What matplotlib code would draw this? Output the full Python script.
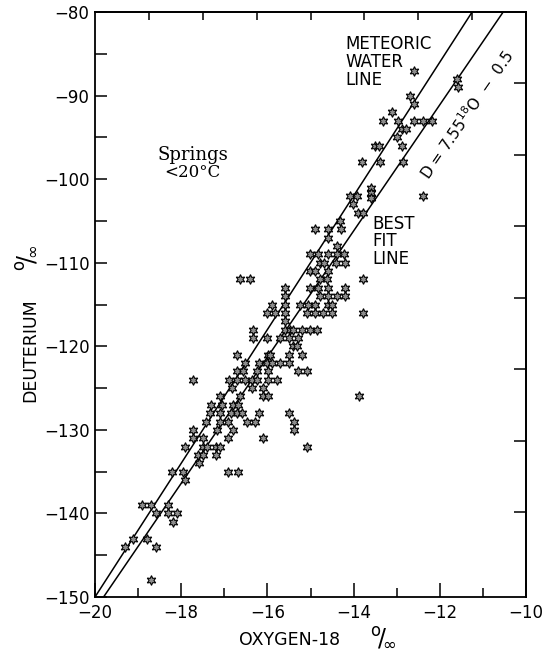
import matplotlib
matplotlib.use("Agg")
import matplotlib.pyplot as plt
import numpy as np

plt.rcParams["font.family"] = ["DejaVu Sans"]

### data ###
# spring waters < 20 C, read row by row (deuterium value : oxygen-18 values)
rows = {
    -87: [-12.60],
    -88: [-11.60],
    -89: [-11.58],
    -90: [-12.69],
    -91: [-12.60],
    -92: [-13.11],
    -93: [-13.32, -12.97, -12.60, -12.39, -12.18],
    -94: [-12.88, -12.78],
    -95: [-12.99],
    -96: [-13.50, -13.41, -12.88],
    -98: [-13.81, -13.39, -12.85],
    -101: [-13.60],
    -101.6: [-13.60],
    -102.2: [-13.60],
    -102: [-14.08, -13.92, -12.39],
    -103: [-14.01],
    -104: [-13.90, -13.78],
    -105: [-14.32],
    -106: [-14.90, -14.59, -14.30],
    -107: [-14.59],
    -108: [-14.39],
    -109: [-15.01, -14.83, -14.59, -14.39, -14.22],
    -110: [-14.78, -14.69, -14.41, -14.20],
    -111: [-15.01, -14.90, -14.59],
    -112: [-16.64, -16.40, -14.78, -14.62, -13.78],
    -113: [-15.59, -15.01, -14.83, -14.59, -14.20],
    -114: [-15.59, -14.78, -14.59, -14.39, -14.20],
    -115: [-15.89, -15.59, -15.24, -15.06, -14.90, -14.59, -14.50],
    -116: [-16.01, -15.82, -15.59, -15.08, -14.90, -14.71, -14.50, -13.78],
    -117: [-15.59],
    -118: [-16.33, -15.59, -15.48, -15.41, -15.20, -15.01, -14.85],
    -119: [-16.33, -16.01, -15.71, -15.50, -15.29],
    -120: [-15.41, -15.31],
    -121: [-16.71, -15.99, -15.94, -15.50, -15.20],
    -122: [-16.52, -16.20, -16.01, -15.89, -15.71, -15.50],
    -123: [-16.71, -16.57, -16.24, -15.99, -15.29, -15.08],
    -124: [-17.73, -16.88, -16.71, -16.52, -16.36, -16.24, -15.99, -15.78],
    -125: [-16.82, -16.36, -16.10],
    -126: [-17.10, -16.64, -16.10, -15.99, -13.87],
    -127: [-17.31, -17.05, -16.80, -16.69],
    -128: [-17.33, -17.10, -16.85, -16.70, -16.59, -16.19, -15.50],
    -129: [-17.42, -17.10, -16.91, -16.47, -16.29, -15.38],
    -130: [-17.73, -17.17, -16.80, -15.38],
    -131: [-17.73, -17.49, -16.91, -16.10],
    -132: [-17.91, -17.49, -17.40, -17.19, -17.10, -15.08],
    -133: [-17.61, -17.49, -17.19],
    -134: [-17.58],
    -135: [-18.21, -17.96, -16.91, -16.68],
    -136: [-17.91],
    -139: [-18.91, -18.70, -18.31],
    -140: [-18.58, -18.31, -18.10],
    -141: [-18.19],
    -143: [-19.12, -18.79],
    -144: [-19.30, -18.58],
    -148: [-18.70],
}

o18 = []
deut = []
for d, os_ in rows.items():
    for o in os_:
        o18.append(o)
        deut.append(d)

# lines: D = a * 18O + b
mwl_slope, mwl_icpt = 8.0, 10.0
fit_slope, fit_icpt = 7.55, -0.5

### plot ###
fig = plt.figure(figsize=(5.48, 6.57), dpi=100)
ax = fig.add_axes([95 / 548, 60 / 657, 431 / 548, 585 / 657])

xs = np.array([-20.5, -9.5])
ax.plot(xs, mwl_slope * xs + mwl_icpt, color="black", lw=1.1)
ax.plot(xs, fit_slope * xs + fit_icpt, color="black", lw=1.1)

ax.plot(o18, deut, ls="none", marker=(6, 1, 0), ms=7, mfc="#8c8c8c",
        mec="black", mew=0.8)

ax.set_xlim(-20, -10)
ax.set_ylim(-150, -80)

ax.set_xticks(np.arange(-20, -9, 2))
ax.set_xticks(np.arange(-19, -10, 2), minor=True)
ax.set_yticks(np.arange(-150, -79, 10))
ax.set_yticks(np.arange(-145, -80, 10), minor=True)
ax.tick_params(axis="x", which="major", direction="in", length=10, width=1.1,
               labelsize=12, pad=5)
ax.tick_params(axis="x", which="minor", direction="in", length=6.5, width=1.1)
ax.tick_params(axis="y", which="both", direction="in", length=8.5, width=1.1,
               labelsize=12, pad=4)

top_ticks = [-18.75, -17.5, -16.25, -15.0, -13.75, -12.5, -11.25]
right_ticks = [-88.55, -97.1, -105.65, -114.2, -122.75, -131.3, -139.85]
top = ax.secondary_xaxis("top")
top.set_xticks(top_ticks)
top.tick_params(direction="in", length=6, width=1.1, labeltop=False)
right = ax.secondary_yaxis("right")
right.set_yticks(right_ticks)
right.tick_params(direction="in", length=8.5, width=1.1, labelright=False)

for sp in list(ax.spines.values()) + list(top.spines.values()) + list(right.spines.values()):
    sp.set_linewidth(1.3)

# annotations
ax.text(-14.2, -82.8, "METEORIC\nWATER\nLINE", fontsize=12, ha="left",
        va="top", linespacing=1.0)
ax.text(-13.57, -104.3, "BEST\nFIT\nLINE", fontsize=12, ha="left",
        va="top", linespacing=0.95)
ax.text(-17.73, -97.7, "Springs", family="DejaVu Serif", fontsize=13,
        ha="center", va="baseline")
ax.text(-17.73, -99.7, "<20°C", family="DejaVu Serif", fontsize=12,
        ha="center", va="baseline")
ax.text(-11.38, -92.3, r"D = 7.55$^{18}$O  −  0.5", fontsize=11,
        rotation=55.5, rotation_mode="anchor", ha="center", va="center")

fig.text(290 / 548, 17 / 657, "OXYGEN-18", fontsize=12.5, ha="center",
         va="center")
fig.text(383 / 548, 19 / 657, r"$^{\mathrm{o}}\!/_{\!\infty}$", fontsize=17,
         ha="center", va="center")
fig.text(30 / 548, 1 - 350 / 657, "DEUTERIUM", fontsize=12.5, rotation=90,
         ha="center", va="center")
fig.text(27 / 548, 1 - 258 / 657, r"$^{\mathrm{o}}\!/_{\!\infty}$", fontsize=17,
         rotation=90, ha="center", va="center")

fig.savefig("out.png", dpi=100)
